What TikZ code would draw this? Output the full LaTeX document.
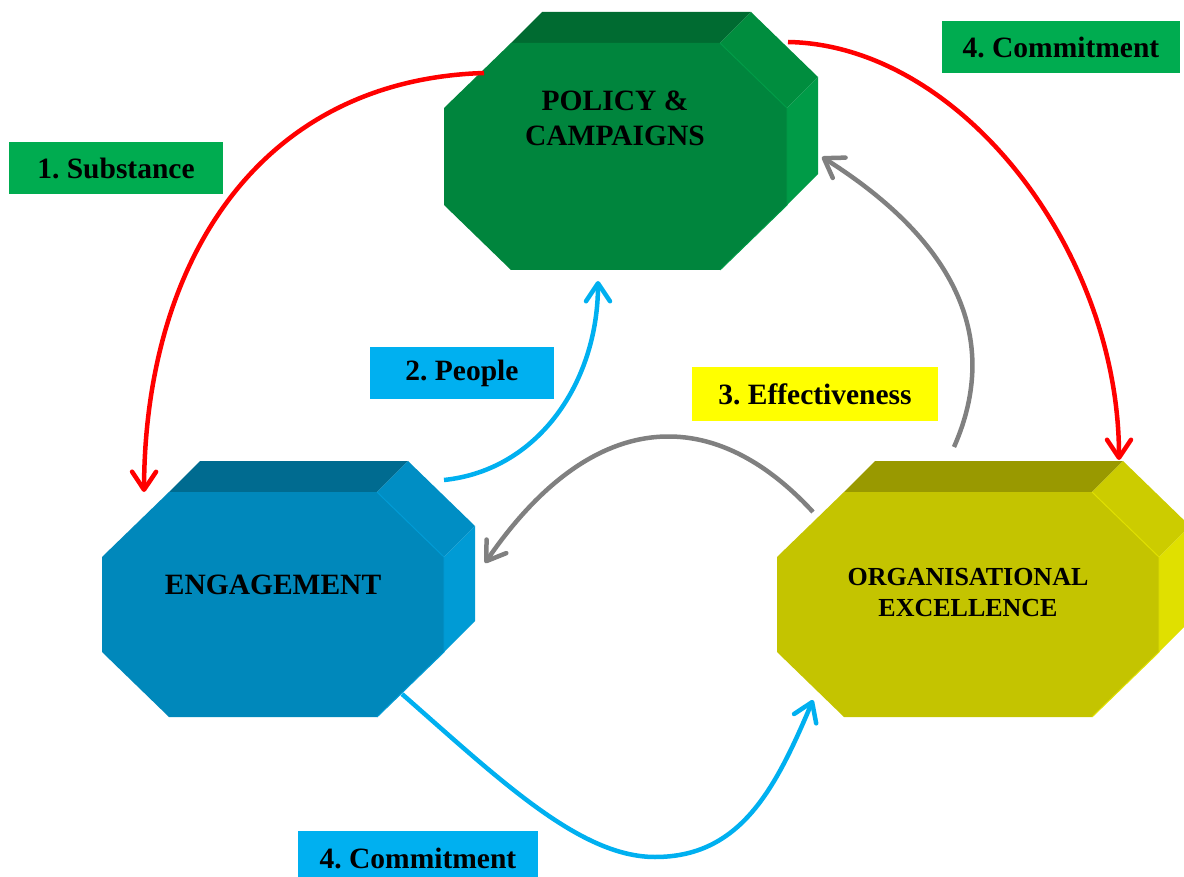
\documentclass[tikz,border=0pt]{standalone}
\usepackage{fontspec}
\setmainfont{Liberation Serif}
\usetikzlibrary{arrows.meta}
\frenchspacing
\definecolor{polfront}{HTML}{00853D}
\definecolor{poltop}{HTML}{006B31}
\definecolor{polslant}{HTML}{008D3E}
\definecolor{polside}{HTML}{009B47}
\definecolor{engfront}{HTML}{0088BB}
\definecolor{engtop}{HTML}{006B90}
\definecolor{engslant}{HTML}{008EC4}
\definecolor{engside}{HTML}{009BD5}
\definecolor{orgfront}{HTML}{C4C400}
\definecolor{orgtop}{HTML}{999900}
\definecolor{orgslant}{HTML}{CCCC00}
\definecolor{orgside}{HTML}{E0E000}
\definecolor{tagGreen}{HTML}{00AC50}
\definecolor{tagBlue}{HTML}{00B0F0}
\definecolor{tagYellow}{HTML}{FFFF00}
\definecolor{linkRed}{HTML}{FF0000}
\definecolor{linkBlue}{HTML}{00B0F0}
\definecolor{linkGrey}{HTML}{808080}

\newcommand{\prism}[5]{%
  \fill[#5top] (#1+67,#2) -- (#1+98,#2-31) -- (#3-36,#2-31) -- (#3-67,#2) -- cycle;
  \fill[#5slant] (#3-67,#2) -- (#3-36,#2-31) -- (#3+31,#2+34) -- (#3,#2+65) -- cycle;
  \fill[#5side] (#3,#2+65) -- (#3+31,#2+34) -- (#3+31,#4-96) -- (#3,#4-65) -- cycle;
  \fill[#5front] (#1+67,#2) -- (#3-67,#2) -- (#3,#2+65) -- (#3,#4-65) -- (#3-67,#4) -- (#1+67,#4) -- (#1,#4-65) -- (#1,#2+65) -- cycle;
  \draw[#5side, line width=1pt] (#3-67,#2) -- (#3,#2+65) -- (#3,#4-65) -- (#3-67,#4);
}

\begin{document}
\begin{tikzpicture}[x=1pt, y=-1pt,
  every node/.style={font=\bfseries\fontsize{29.5}{35}\selectfont, text=black},
  tag/.style={minimum height=52pt, inner sep=0pt},
  link/.style={line width=4.5pt, -{Straight Barb[length=18pt,width=24pt,round]}}]
\useasboundingbox (0,0) rectangle (1184,877);

\prism{444}{43}{787}{270}{pol}
\prism{102}{492}{444}{717}{eng}
\prism{777}{492}{1159}{717}{org}

\node (policy) [align=center] at (615,118) {POLICY \&\\CAMPAIGNS};
\node (engage) at (273,585) {ENGAGEMENT};
\node (orgex) [align=center, font=\bfseries\fontsize{26}{31}\selectfont] at (968,593) {ORGANISATIONAL\\EXCELLENCE};

\node (substance) [tag, fill=tagGreen, minimum width=214pt] at (116,168) {1. Substance};
\node (committop) [tag, fill=tagGreen, minimum width=238pt] at (1061,47) {4. Commitment};
\node (people) [tag, fill=tagBlue, minimum width=184pt] at (462,373) {2. People};
\node (effect) [tag, fill=tagYellow, minimum width=246pt, minimum height=54pt] at (815,394) {3. Effectiveness};
\node (commitlow) [tag, fill=tagBlue, minimum width=240pt, minimum height=54pt] at (418,858) {4. Commitment};

\coordinate (pol-w) at (484,73);
\coordinate (pol-ne) at (788,42);
\coordinate (pol-s) at (598,281);
\coordinate (pol-e) at (822,157);
\coordinate (eng-nw) at (144,492);
\coordinate (eng-ne) at (444,480);
\coordinate (eng-e) at (485,563);
\coordinate (eng-se) at (402,694);
\coordinate (org-ne) at (1119,460);
\coordinate (org-n) at (954,447);
\coordinate (org-w) at (813,512);
\coordinate (org-sw) at (813,700);
\coordinate (low) at (655,857);

\draw [link, linkRed] (pol-w) .. controls (260,80) and (145,260) .. (eng-nw);
\draw [link, linkRed] (pol-ne) .. controls (960,45) and (1119,250) .. (org-ne);
\draw [link, linkBlue] (eng-ne) .. controls (540,470) and (598,380) .. (pol-s);
\draw [link, linkGrey] (org-n) .. controls (1010,320) and (930,225) .. (pol-e);
\draw [link, linkGrey] (org-w) .. controls (710,400) and (590,410) .. (eng-e);
\draw [link, linkBlue] (eng-se) .. controls (500,780) and (580,857) .. (low) .. controls (740,857) and (775,790) .. (org-sw);
\end{tikzpicture}
\end{document}
